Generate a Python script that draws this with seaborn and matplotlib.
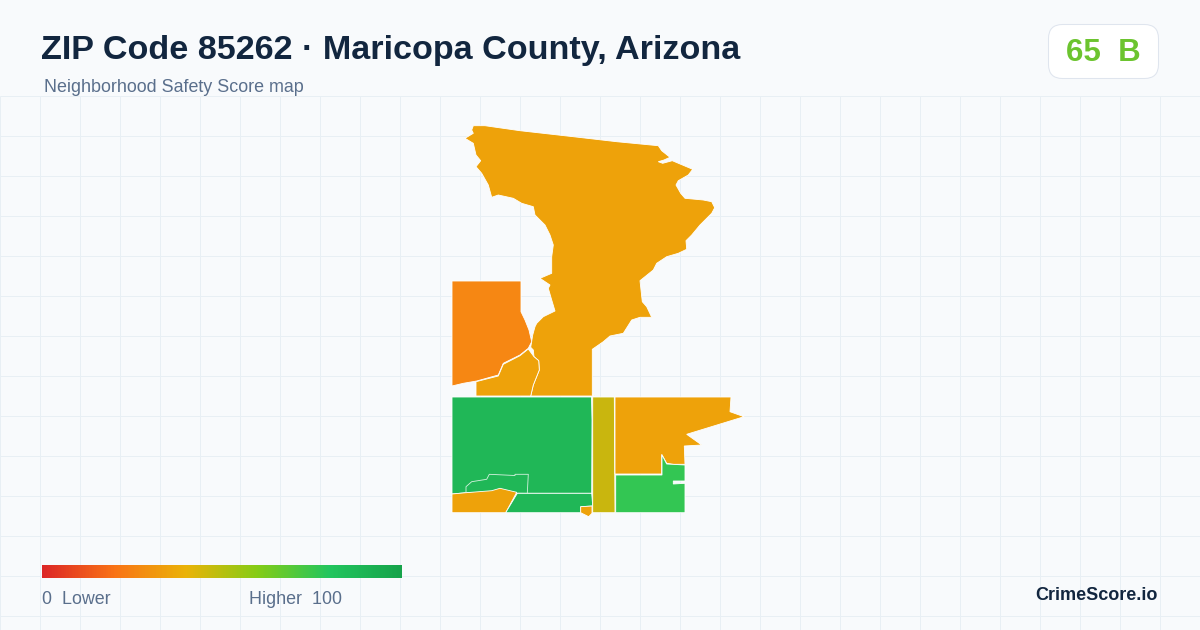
import numpy as np
import matplotlib
matplotlib.use("Agg")
import matplotlib.pyplot as plt
from matplotlib.patches import FancyBboxPatch
import seaborn as sns

# === Data ===
title = "ZIP Code 85262 · Maricopa County, Arizona"
subtitle = "Neighborhood Safety Score map"
badge_text = "65  B"
brand = "CrimeScore.io"
legend_stops = ["#DC2626", "#F97316", "#EAB308", "#84CC16", "#22C55E", "#16A34A"]
legend_values = np.linspace(0, 100, 360)

# area outlines, in picture pixels
north = [(473.3,125.7),(485,125.7),(520,130.7),(573.3,136.7),(616.7,141.7),(658.3,145.7),(661.7,150.7),(670,157.3),
         (664,160),(658.3,161.7),(662.7,163.3),(672.3,160.7),(692.7,169.3),(688.3,175),(678.3,180.7),(676,185),
         (680.7,193.3),(685,198.3),(703.3,200),(711.7,201.7),(714.7,207.7),(711.7,213.3),(700,225),(691.7,235),
         (686,240.7),(686.7,249.3),(678.3,253.3),(666.7,256.7),(656.7,263.3),(653.3,270),(640,280.7),(642.3,301.7),
         (646.7,306.7),(651.7,317.3),(640,317.3),(631.7,320),(623.3,333.3),(610,336),(603.3,341.7),(592.3,349.3),
         (592.3,395),(595,396),(530.7,396),(533.3,385),(539.3,370),(538.7,360.7),(534,356.7),(533.3,350),
         (530.7,347.3),(532.7,335),(535,326.7),(536.7,323.3),(543.3,316.7),(555,311),(551.7,300),(548.3,288.3),
         (550,285),(540,278.3),(551.7,273.3),(551.7,256.7),(553.3,245),(550,235),(545,225),(535,215),(533.3,206.7),
         (521.7,203.3),(513.3,198.3),(498.3,195),(491.7,197.3),(488.3,185),(481.7,173.3),(476,166.7),(480.7,160.7),
         (476,155),(473.3,143.3),(465,138.3),(473.3,133.3),(471.7,130)]
west = [(452,281),(521,281),(521,311.7),(525,320),(529,330),(531.7,341.7),(528.3,348.3),(520,355),(503.3,363.3),
        (498.3,375),(476.7,381),(463.3,383.3),(452,386)]
wedge = [(528.3,349),(534,356.7),(538.7,360.7),(539.3,370),(533.3,385),(530.7,396),(476,396),(476,381.7),
         (498.3,376),(503.3,364.3),(520,355.7)]
center = [(452,397),(591.5,397),(592,420),(591.7,493.3),(527.3,493.3),(466,492.7),(452,494)]
enclave = [(527.3,493.3),(528.3,474.3),(515,474.3),(515,475.5),(489.3,474.3),(486.7,479.3),(471.7,481.7),(466,486.7),(466,492.7)]
southwest = [(452,494),(466,492.7),(491.7,490.7),(500,488.3),(516.7,492.3),(505.7,512.7),(452,512.7)]
south = [(517.3,493.3),(591.7,493.3),(592.7,506),(580.7,506.7),(580.7,512.7),(505.7,512.7)]
south_tip = [(580.7,506.7),(592,506),(592,513.3),(588.7,516.7),(580.7,512.7)]
strip = [(592.7,397),(614.3,397),(615,512.7),(592.7,512.7)]
east = [(615,397),(731,397),(730,411.7),(744,416.7),(686.7,434.3),(701.7,445),(684.3,446),(685,464.3),(673.3,464.3),
        (666.7,463.3),(661.7,454.3),(661.7,474),(615,474)]
southeast = [(615.7,475),(662,475),(662,455),(666.7,464),(685,465),(685,481),(673.3,481),(673.3,484),(685,483.3),
             (685,512.7),(615.7,512.7)]

areas = [north, west, wedge, center, southwest, south, south_tip, strip, east, southeast]
area_colors = ["#EEA20A", "#F68713", "#EEA20A", "#20B757", "#EEA20A", "#20B757", "#EEA20A", "#C9B60E", "#EEA20A", "#33C653"]

# === Setup ===
sns.set_theme(style="white")
plt.rcParams["font.family"] = ["Liberation Sans", "DejaVu Sans"]

fig = plt.figure(figsize=(12, 6.3), dpi=100, facecolor="#F8FAFC")
ax = fig.add_axes([0, 0, 1, 1])
ax.set_xlim(0, 1200)
ax.set_ylim(630, 0)
ax.axis("off")

# background grid
ax.vlines(np.arange(0, 1200, 40), 96, 630, color="#E8EFF4", lw=0.72, zorder=1)
ax.hlines(np.arange(96, 630, 40), 0, 1200, color="#E8EFF4", lw=0.72, zorder=1)

# === Map ===
for outline, colour in zip(areas, area_colors):
    xs, ys = zip(*outline)
    ax.fill(xs, ys, facecolor=colour, edgecolor="white", lw=0.6, zorder=2)
xs, ys = zip(*enclave)
ax.plot(xs, ys, color="#D5F2DF", lw=0.6, zorder=3)

# === Header ===
ax.text(41, 50.5, title, fontsize=24.6, fontweight="bold", color="#12263F", va="center", ha="left")
ax.text(44, 87, subtitle, fontsize=12.9, color="#5A6F8C", va="center", ha="left")

badge = FancyBboxPatch((1048.5, 24.5), 110, 54, boxstyle="round,pad=0,rounding_size=14",
                       facecolor="white", edgecolor="#DFE5EE", lw=0.75, zorder=3)
ax.add_patch(badge)
ax.text(1103, 53, badge_text, fontsize=22.5, fontweight="bold", color="#6CC42F", va="center", ha="center", zorder=4)

# === Legend ===
cbar_ax = fig.add_axes([42 / 1200, 1 - 578 / 630, 360 / 1200, 13 / 630])
cmap = sns.blend_palette(legend_stops, as_cmap=True)
sns.heatmap(legend_values.reshape(1, -1), cmap=cmap, vmin=0, vmax=100, cbar=False,
            xticklabels=False, yticklabels=False, ax=cbar_ax)

ax.text(42, 599, "0  Lower", fontsize=12.9, color="#5A6F8C", va="center", ha="left")
ax.text(249, 599, "Higher  100", fontsize=12.9, color="#5A6F8C", va="center", ha="left")
ax.text(1158, 595, brand, fontsize=13, fontweight="bold", color="#12263F", va="center", ha="right")

fig.savefig("out.png", dpi=100, facecolor=fig.get_facecolor())
